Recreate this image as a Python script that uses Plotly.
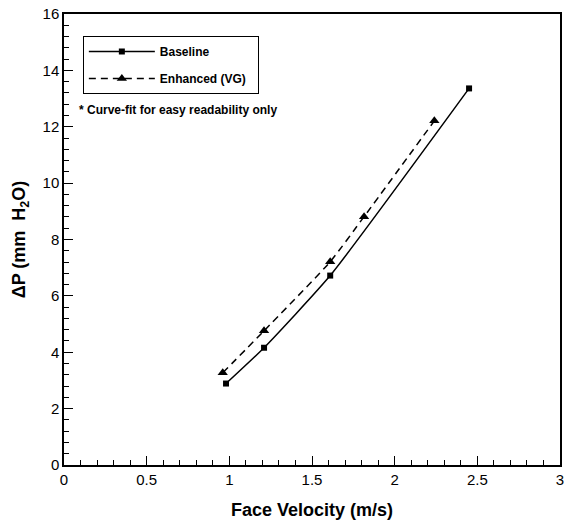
import plotly.graph_objects as go

# Data
baseline_v = [0.98, 1.21, 1.61, 2.45]
baseline_dp = [2.89, 4.16, 6.72, 13.36]
enhanced_v = [0.96, 1.21, 1.61, 1.815, 2.24]
enhanced_dp = [3.27, 4.76, 7.21, 8.81, 12.21]

series_names = ["Baseline", "Enhanced (VG)"]
x_ticks = [0, 0.5, 1, 1.5, 2, 2.5, 3]
y_ticks = [0, 2, 4, 6, 8, 10, 12, 14, 16]

FONT = "Liberation Sans, Arial, Helvetica, sans-serif"

fig = go.Figure()
fig.add_trace(go.Scatter(
    x=baseline_v, y=baseline_dp, name=f"<b>{series_names[0]}</b>", legendgroup="a",
    mode="lines+markers",
    line=dict(color="black", width=1.5, shape="spline", smoothing=0.5),
    marker=dict(symbol="square", size=6, color="black"),
))
fig.add_trace(go.Scatter(
    x=enhanced_v, y=enhanced_dp, name=f"<b>{series_names[1]}</b>&nbsp;&nbsp;", legendgroup="b",
    mode="lines+markers",
    line=dict(color="black", width=1.5, dash="7px,5px", shape="spline", smoothing=0.5),
    marker=dict(symbol="triangle-up", size=9, color="black"),
))

axis_common = dict(
    showgrid=False, zeroline=False, showline=True, linecolor="black", linewidth=1.5,
    mirror=True, ticks="inside", ticklen=9, tickwidth=1, tickcolor="black",
    tickfont=dict(family=FONT, size=15, color="black"), automargin=False,
    ticklabeloverflow="allow",
)

fig.update_xaxes(
    range=[0, 3], tickvals=x_ticks, ticktext=[f"{v:g}" for v in x_ticks],
    minor=dict(dtick=0.1, ticks="inside", ticklen=5, tickcolor="black"),
    title=dict(text="<b>Face Velocity (m/s)</b>", font=dict(family=FONT, size=18, color="black"), standoff=18),
    **axis_common,
)
fig.update_yaxes(
    range=[0, 16], tickvals=y_ticks, ticktext=[str(v) for v in y_ticks],
    minor=dict(dtick=0.4, ticks="inside", ticklen=5, tickcolor="black"),
    title=dict(text="<b>ΔP (mm&nbsp; H<sub>2</sub>O)</b>", font=dict(family=FONT, size=18, color="black"), standoff=12),
    **axis_common,
)

fig.add_annotation(
    x=0.026, y=0.787, xref="paper", yref="paper", xanchor="left", yanchor="middle",
    text="<b>* Curve-fit for easy readability only</b>", showarrow=False,
    font=dict(family=FONT, size=12, color="black"),
)

fig.update_layout(
    width=564, height=520,
    margin=dict(l=64, r=4, t=14, b=55),
    paper_bgcolor="white", plot_bgcolor="white",
    showlegend=True,
    legend=dict(
        x=0.038, y=0.951, xanchor="left", yanchor="top",
        bordercolor="black", borderwidth=1, bgcolor="white",
        font=dict(family=FONT, size=12, color="black"),
        traceorder="grouped", tracegroupgap=8, itemwidth=66,
    ),
)

fig.write_html("out.html")
